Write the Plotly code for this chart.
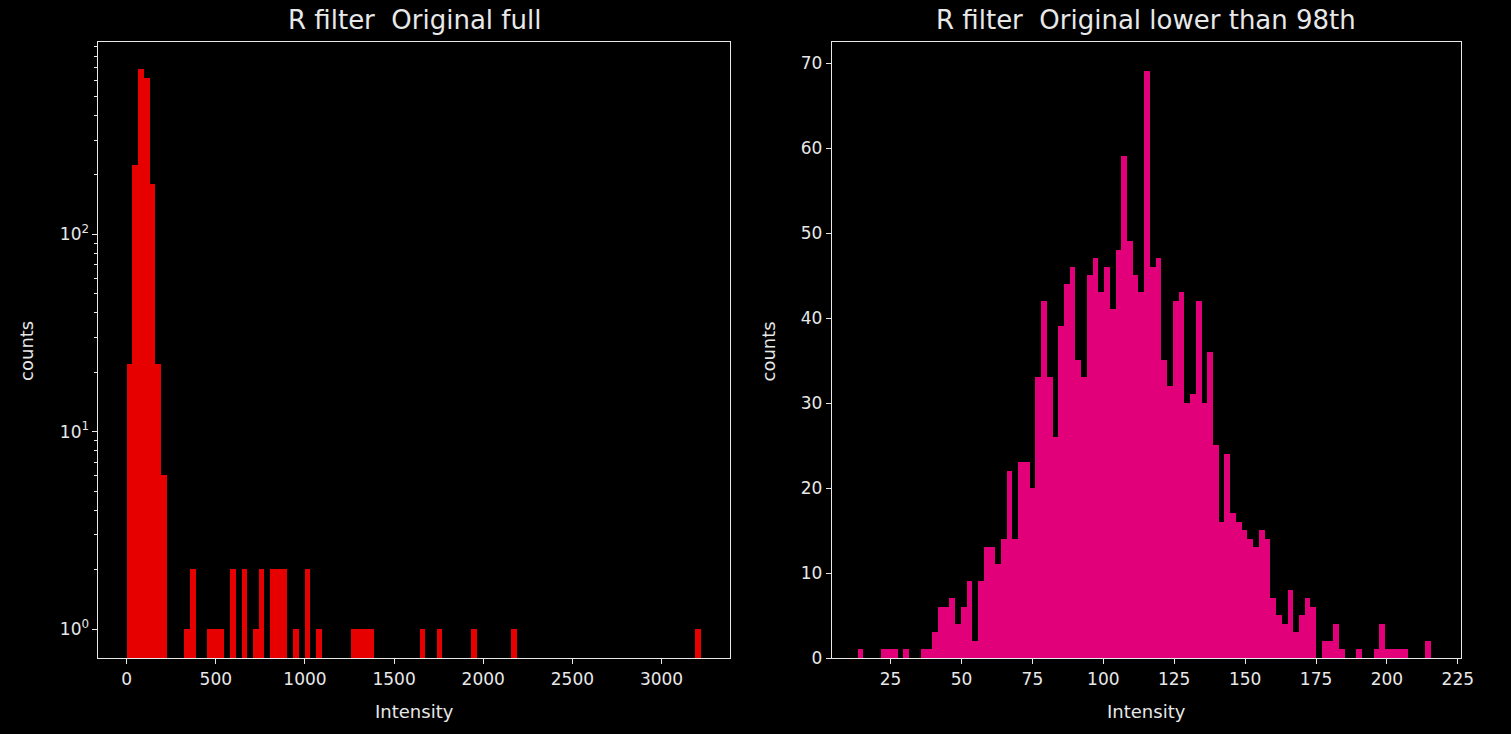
import plotly.graph_objects as go

# ---- histogram data: full image intensities (100 bins) ----
full_lo, full_hi, full_nbins = 2.8, 3222.8, 100
full_counts = [
    22, 224, 684, 615, 180, 22, 6, 0, 0, 0,
    1, 2, 0, 0, 1, 1, 1, 0, 2, 0,
    2, 0, 1, 2, 0, 2, 2, 2, 0, 1,
    0, 2, 0, 1, 0, 0, 0, 0, 0, 1,
    1, 1, 1, 0, 0, 0, 0, 0, 0, 0,
    0, 1, 0, 0, 1, 0, 0, 0, 0, 0,
    1, 0, 0, 0, 0, 0, 0, 1, 0, 0,
    0, 0, 0, 0, 0, 0, 0, 0, 0, 0,
    0, 0, 0, 0, 0, 0, 0, 0, 0, 0,
    0, 0, 0, 0, 0, 0, 0, 0, 0, 1,
]

# ---- histogram data: intensities below the 98th percentile (100 bins) ----
trim_lo, trim_hi, trim_nbins = 13.3, 215.4, 100
trim_counts = [
    1, 0, 0, 0, 1, 1, 1, 0, 1, 0,
    0, 1, 1, 3, 6, 6, 7, 4, 6, 9,
    2, 9, 13, 13, 11, 14, 22, 14, 23, 23,
    20, 33, 42, 33, 26, 39, 44, 46, 35, 33,
    45, 47, 43, 46, 41, 48, 59, 49, 45, 43,
    69, 46, 47, 35, 32, 42, 43, 30, 31, 42,
    30, 36, 25, 16, 24, 17, 16, 15, 14, 13,
    15, 14, 7, 5, 4, 8, 3, 5, 7, 6,
    0, 2, 2, 4, 1, 0, 0, 1, 0, 0,
    1, 4, 1, 1, 1, 1, 0, 0, 0, 2,
]

full_xticks = [0, 500, 1000, 1500, 2000, 2500, 3000]
full_yticks = [1, 10, 100]
full_yticktext = ["10<sup>0</sup>", "10<sup>1</sup>", "10<sup>2</sup>"]
trim_xticks = [25, 50, 75, 100, 125, 150, 175, 200, 225]
trim_yticks = [0, 10, 20, 30, 40, 50, 60, 70]

title_full = "R filter\u00a0 Original full"
title_trim = "R filter\u00a0 Original lower than 98th"
xlabel = "Intensity"
ylabel = "counts"

RED = "#e60000"
PINK = "#e2007a"
FG = "#e8e8e8"
BG = "#000000"
FONT = "DejaVu Sans"

W, H = 1511, 734


def bins(lo, hi, n, counts):
    w = (hi - lo) / n
    xs, ys = [], []
    for i, c in enumerate(counts):
        if c > 0:
            xs.append(lo + (i + 0.5) * w)
            ys.append(c)
    return xs, ys, w


def fx(p):
    return p / W


def fy(p):
    return 1 - p / H


fx_full, fy_full, w_full = bins(full_lo, full_hi, full_nbins, full_counts)
fx_trim, fy_trim, w_trim = bins(trim_lo, trim_hi, trim_nbins, trim_counts)

fig = go.Figure()
fig.add_trace(go.Bar(x=fx_full, y=fy_full, width=w_full,
                     marker=dict(color=RED, line=dict(width=0)),
                     xaxis="x", yaxis="y", showlegend=False, hoverinfo="x+y"))
fig.add_trace(go.Bar(x=fx_trim, y=fy_trim, width=w_trim,
                     marker=dict(color=PINK, line=dict(width=0)),
                     xaxis="x2", yaxis="y2", showlegend=False, hoverinfo="x+y"))

# plot areas in pixels
L1, R1 = 99.3, 736.3
L2, R2 = 839.0, 1473.5
TOP, BOT = 42.8, 667.3

axis_common = dict(
    showline=True, linecolor=FG, linewidth=1, mirror=True,
    showgrid=False, zeroline=False,
    ticks="outside", ticklen=5, tickwidth=1, tickcolor=FG,
    tickfont=dict(family=FONT, size=17, color=FG),
)

minor_vals = [m * 10 ** e for e in range(0, 3) for m in range(2, 10)]
minor_vals = [v for v in minor_vals if v < 950]

fig.update_layout(
    width=W, height=H,
    margin=dict(l=0, r=0, t=0, b=0, pad=0),
    paper_bgcolor=BG, plot_bgcolor=BG,
    bargap=0,
    font=dict(family=FONT, color=FG),
    xaxis=dict(domain=[fx(L1), fx(R1)], range=[-158.2, 3383.8],
               tickvals=full_xticks, anchor="y", **axis_common),
    yaxis=dict(domain=[fy(BOT), fy(TOP)], type="log", range=[-0.148, 2.9735],
               tickvals=full_yticks, ticktext=full_yticktext, anchor="x",
               minor=dict(tickvals=minor_vals, ticks="outside", ticklen=3,
                          tickwidth=1, tickcolor=FG, showgrid=False),
               **axis_common),
    xaxis2=dict(domain=[fx(L2), fx(R2)], range=[4.27, 226.05],
                tickvals=trim_xticks, anchor="y2", **axis_common),
    yaxis2=dict(domain=[fy(BOT), fy(TOP)], range=[0, 72.45],
                tickvals=trim_yticks, anchor="x2", **axis_common),
)

ann = []
for cx, t in [((L1 + R1) / 2, title_full), ((L2 + R2) / 2, title_trim)]:
    ann.append(dict(text=t, x=fx(cx), y=fy(20), xref="paper", yref="paper",
                    showarrow=False, xanchor="center", yanchor="middle",
                    font=dict(family=FONT, size=26, color=FG)))
for cx in [(L1 + R1) / 2, (L2 + R2) / 2]:
    ann.append(dict(text=xlabel, x=fx(cx), y=fy(721), xref="paper", yref="paper",
                    showarrow=False, xanchor="center", yanchor="middle",
                    font=dict(family=FONT, size=18, color=FG)))
for cx in [26, 775]:
    ann.append(dict(text=ylabel, x=fx(cx), y=fy(356), xref="paper", yref="paper",
                    showarrow=False, xanchor="center", yanchor="middle",
                    textangle=-90, font=dict(family=FONT, size=18, color=FG)))
fig.update_layout(annotations=ann)

fig.write_html("out.html")
